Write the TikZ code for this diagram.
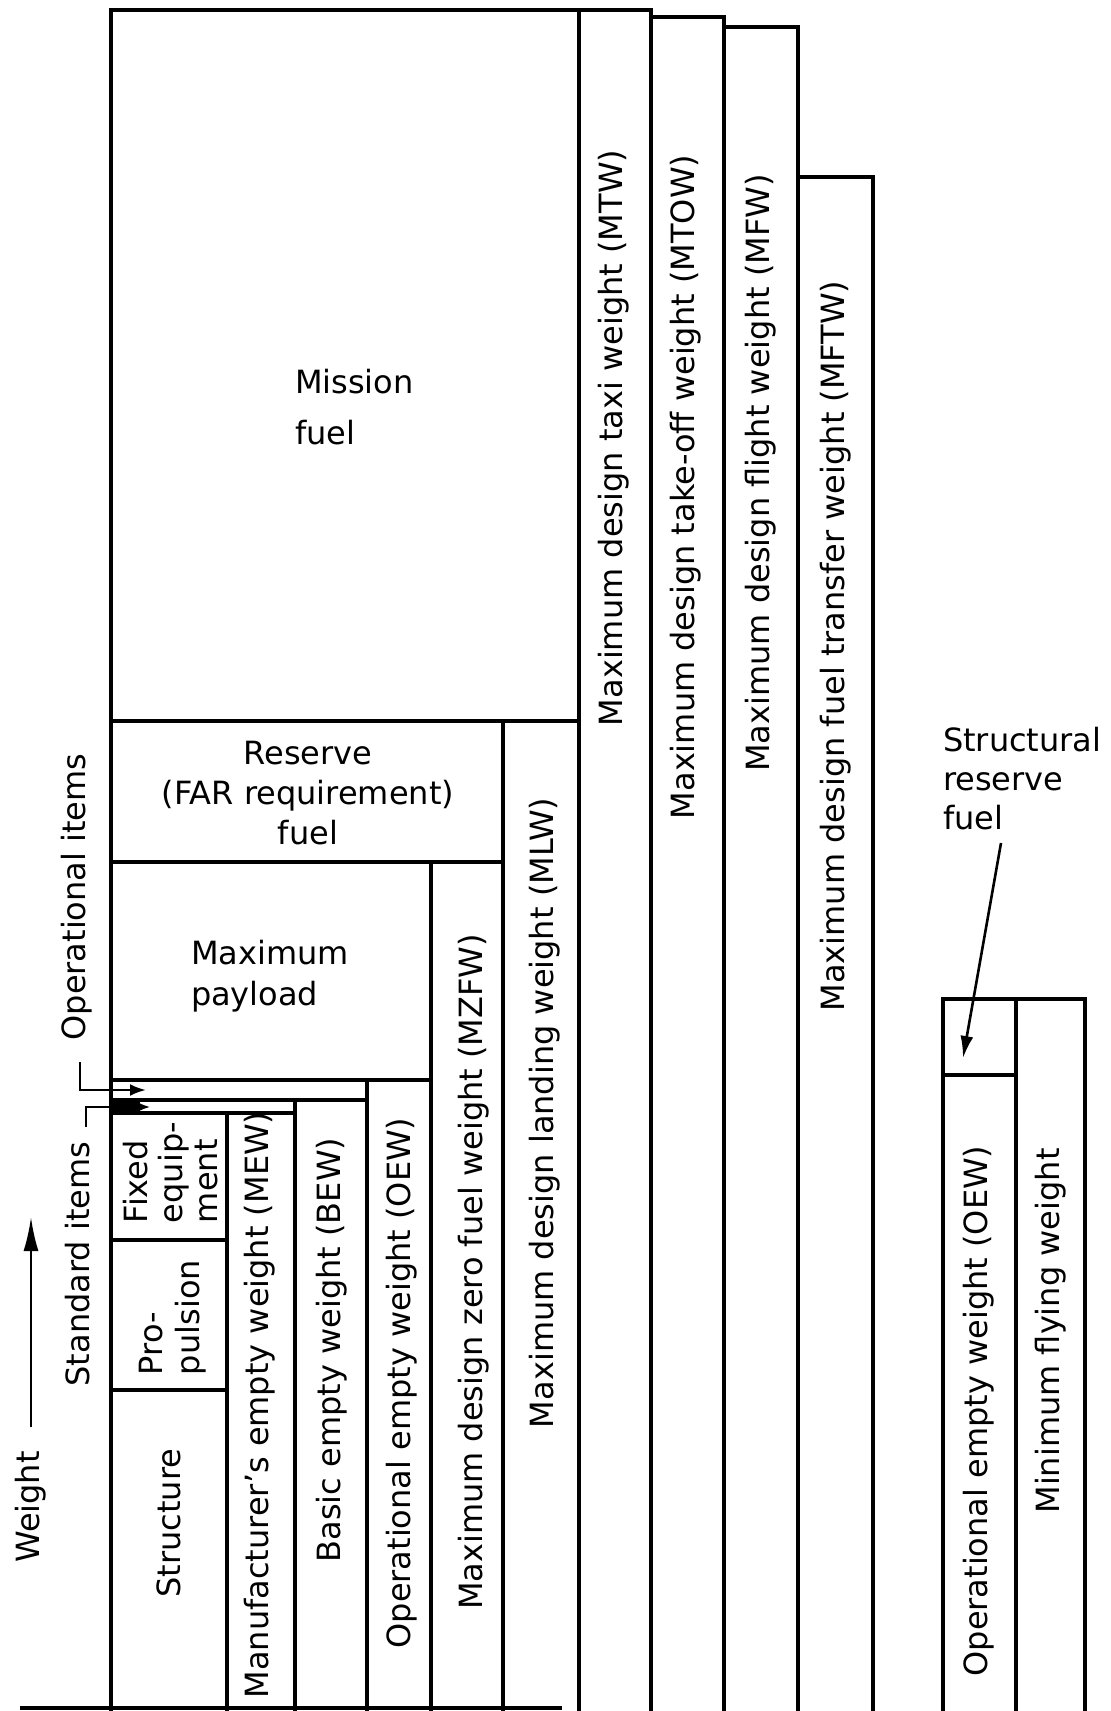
\documentclass[tikz,border=0pt]{standalone}
\usepackage{fontspec}
\setmainfont{DejaVu Sans}
\usetikzlibrary{arrows.meta}
\begin{document}
\begin{tikzpicture}[x=1pt,y=-1pt,
  col/.style={line width=3.2pt, line cap=rect},
  lbl/.style={font=\fontsize{32}{38}\selectfont, inner sep=0pt, outer sep=0pt},
  vlbl/.style={lbl, rotate=90, anchor=center},
  conn/.style={line width=2.6pt}
]
\useasboundingbox (0,0) rectangle (1111,1711);

% ---- main stack (left)
\draw[col] (111,10) rectangle (579,721);
\draw[col] (111,721) rectangle (503,862);
\draw[col] (111,862) rectangle (431,1080);
\draw[col] (111,1080) -- (111,1716);
\draw[col] (111,1100) -- (367,1100);
\draw[col] (111,1113) rectangle (227,1240);
\draw[col] (111,1240) rectangle (227,1390);
\draw[col] (227,1390) -- (227,1716);

% ---- weight columns
\draw[col] (227,1716) -- (227,1113) -- (295,1113) -- (295,1716);
\draw[col] (295,1716) -- (295,1100) -- (367,1100) -- (367,1716);
\draw[col] (367,1716) -- (367,1080) -- (431,1080) -- (431,1716);
\draw[col] (431,1716) -- (431,862) -- (503,862) -- (503,1716);
\draw[col] (503,1716) -- (503,721) -- (579,721) -- (579,1716);
\draw[col] (579,1716) -- (579,10) -- (651,10) -- (651,1716);
\draw[col] (651,1716) -- (651,17) -- (724,17) -- (724,1716);
\draw[col] (724,1716) -- (724,27) -- (798,27) -- (798,1716);
\draw[col] (798,1716) -- (798,177) -- (873,177) -- (873,1716);

% ---- right group
\draw[col] (943,1716) -- (943,999) -- (1016,999) -- (1016,1716);
\draw[col] (1016,999) -- (1085,999) -- (1085,1716);
\draw[col] (943,1075) -- (1016,1075);

% ---- baseline
\draw[col] (22,1708) -- (560,1708);

% ---- box labels
\node[lbl, align=left, anchor=west, font=\fontsize{32}{51}\selectfont] (mission) at (295,407) {Mission\\fuel};
\node[lbl, align=center, font=\fontsize{32}{40}\selectfont] (reserve) at (308,793) {Reserve\\(FAR requirement)\\fuel};
\node[lbl, align=left, anchor=west, font=\fontsize{32}{41}\selectfont] (payload) at (191,976) {Maximum\\payload};
\node[lbl, rotate=90, align=left, anchor=west, font=\fontsize{32}{35}\selectfont] (fixed) at (171,1223) {Fixed\\equip-\\ment};
\node[lbl, rotate=90, align=left, anchor=west, font=\fontsize{32}{37}\selectfont] (prop) at (173,1375) {Pro-\\pulsion};
\node[vlbl] (struct) at (169,1523) {Structure};

% ---- column labels
\node[vlbl] (mew) at (260,1405) {Manufacturer’s empty weight (MEW)};
\node[vlbl] (bew) at (332,1350) {Basic empty weight (BEW)};
\node[vlbl] (oew) at (402,1383) {Operational empty weight (OEW)};
\node[vlbl] (mzfw) at (474,1272) {Maximum design zero fuel weight (MZFW)};
\node[vlbl] (mlw) at (545,1113) {Maximum design landing weight (MLW)};
\node[vlbl] (mtw) at (614,438) {Maximum design taxi weight (MTW)};
\node[vlbl] (mtow) at (686,487) {Maximum design take-off weight (MTOW)};
\node[vlbl] (mfw) at (761,473) {Maximum design flight weight (MFW)};
\node[vlbl] (mftw) at (836,646) {Maximum design fuel transfer weight (MFTW)};
\node[vlbl] (oewr) at (979,1411) {Operational empty weight (OEW)};
\node[vlbl] (mfly) at (1051,1331) {Minimum flying weight};

% ---- side labels
\node[vlbl] (opi) at (77,897) {Operational items};
\node[vlbl] (stdi) at (78,1264) {Standard items};
\node[vlbl] (wt) at (31,1507) {Weight};
\node[lbl, align=left, anchor=north west, font=\fontsize{32}{39}\selectfont] (srf) at (943,727) {Structural\\reserve\\fuel};

% ---- connectors
\coordinate (opA) at (80,1062);
\coordinate (opC) at (146,1090);
\draw[conn, -{Latex[length=16pt,width=12pt]}] (opA) |- (opC);

\coordinate (stA) at (86,1127);
\coordinate (stC) at (150,1107);
\fill (111,1101) rectangle (140,1113);
\draw[conn, -{Latex[length=14pt,width=12pt]}] (stA) |- (stC);

\coordinate (wtop) at (31,1217);
\draw[conn, shorten <=24pt, -{Latex[length=34pt,width=15pt]}] (wt.east) -- (wtop);

\coordinate (srfA) at (1001,843);
\coordinate (srfB) at (963,1058);
\draw[conn, -{Latex[length=22pt,width=13pt]}] (srfA) -- (srfB);
\end{tikzpicture}
\end{document}
